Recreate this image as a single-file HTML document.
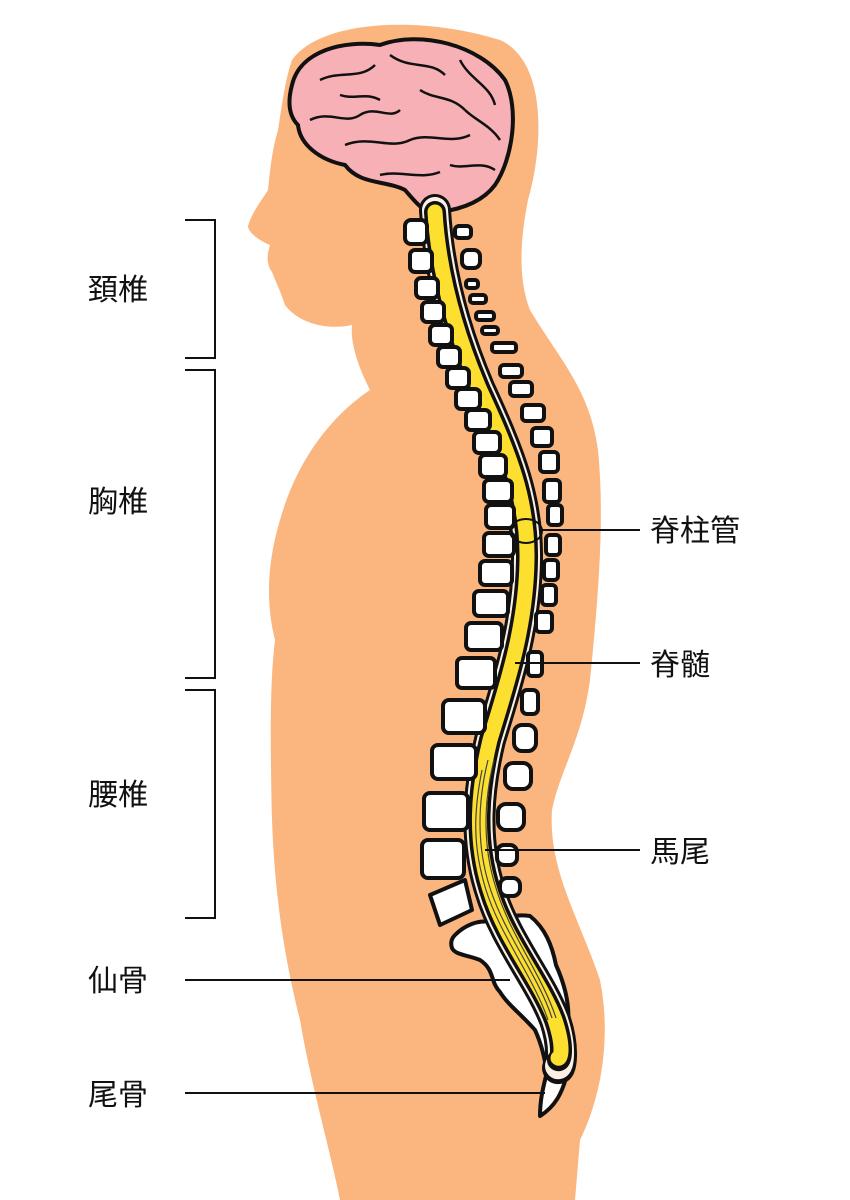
<!DOCTYPE html>
<html><head><meta charset="utf-8"><style>
html,body{margin:0;padding:0;background:#fff}
svg{display:block}
text{font-family:"Liberation Sans","Noto Sans CJK JP",sans-serif;font-size:30px;fill:#111}
</style></head><body>
<svg width="850" height="1200" viewBox="0 0 850 1200" xmlns="http://www.w3.org/2000/svg">
<!-- body -->
<path fill="#fbb67f" d="M292,60 C320,20 420,15 500,40 C545,60 545,140 528,200 C520,240 518,280 530,310 C560,360 590,390 598,450 C605,520 598,600 590,680 C582,740 560,770 552,810 C548,870 580,920 600,980 C612,1040 600,1100 580,1140 L575,1200 L340,1200 C330,1150 310,1080 300,1020 C285,960 275,900 272,820 C270,740 270,680 275,640 C265,600 268,560 280,520 C300,450 340,410 370,390 C360,370 350,345 352,325 C330,330 300,325 285,305 C280,290 275,280 272,272 C265,262 268,252 270,245 C258,240 248,232 248,226 C252,212 262,200 268,190 C270,170 272,150 278,130 C282,105 285,80 292,60 Z"/>
<!-- brain -->
<path fill="#f7b0b6" stroke="#111" stroke-width="4" d="M292,85 C300,50 345,40 380,45 C420,30 480,45 505,80 C520,110 512,160 495,185 C480,205 455,210 440,212 C425,215 418,205 405,190 C385,180 360,185 345,165 C320,160 300,145 298,125 C288,115 288,100 292,85 Z"/>
<g fill="none" stroke="#111" stroke-width="2.5">
<path d="M320,80 C340,70 360,80 375,65"/><path d="M390,55 C410,70 430,60 445,75"/><path d="M460,60 C470,80 490,85 495,105"/>
<path d="M310,120 C330,110 345,125 360,115 C375,105 390,120 400,110"/><path d="M345,145 C370,135 390,150 410,140 C430,132 450,145 470,135"/>
<path d="M420,90 C435,100 450,95 465,110 C475,120 490,125 500,140"/><path d="M380,175 C400,170 420,180 440,172"/><path d="M450,165 C465,170 480,160 495,170"/>
<path d="M340,95 C355,100 365,92 380,100"/>
</g>
<!-- sacrum (behind cord) -->
<path fill="#fff" stroke="#111" stroke-width="4" stroke-linejoin="round" d="M455,935 C465,925 478,920 490,922 C500,918 515,914 530,916 C545,928 552,945 556,965 C565,985 570,1005 568,1025 C574,1045 572,1065 565,1078 L548,1078 C545,1060 542,1045 535,1030 C522,1015 508,1005 500,992 C490,982 495,970 480,960 C468,955 455,955 452,948 C450,942 452,938 455,935 Z"/>
<!-- coccyx -->
<path fill="#fff" stroke="#111" stroke-width="4" stroke-linejoin="round" d="M546,1076 L566,1078 C562,1092 556,1106 540,1116 C540,1100 543,1088 546,1076 Z"/>
<!-- spinal canal -->
<path fill="none" stroke="#111" stroke-width="32" stroke-linecap="round" d="M435,210 C438,260 450,320 480,390 C510,455 528,500 527,560 C526,630 505,690 490,740 C478,790 474,840 490,890 C505,940 540,980 555,1020 C565,1050 560,1070 558,1068"/>
<path fill="none" stroke="#fbf0e6" stroke-width="26" stroke-linecap="round" d="M435,210 C438,260 450,320 480,390 C510,455 528,500 527,560 C526,630 505,690 490,740 C478,790 474,840 490,890 C505,940 540,980 555,1020 C565,1050 560,1068 558,1066"/>
<path fill="none" stroke="#111" stroke-width="22" stroke-linecap="round" d="M435,212 C438,260 450,320 480,390 C510,455 528,500 527,560 C526,630 505,690 490,740 C478,790 474,840 490,890 C505,940 540,980 555,1020 C565,1050 560,1062 558,1060"/>
<path fill="none" stroke="#fde02f" stroke-width="15" stroke-linecap="round" d="M435,212 C438,260 450,320 480,390 C510,455 528,500 527,560 C526,630 505,690 490,740 C478,790 474,840 490,890 C505,940 540,980 555,1020 C565,1050 560,1060 558,1058"/>
<g fill="none" stroke="#444" stroke-width="1.2">
<path d="M488,760 C478,800 476,845 490,888 C505,935 538,975 552,1018"/>
<path d="M494,760 C484,800 482,845 496,888 C510,935 542,975 556,1018"/>
<path d="M482,770 C474,810 472,845 486,890 C500,935 534,978 548,1020"/>
</g>
<!-- vertebral bodies -->
<g fill="#fff" stroke="#111" stroke-width="4" stroke-linejoin="round">
<rect x="405" y="220" width="22" height="24" rx="6"/>
<rect x="410" y="250" width="22" height="22" rx="5"/>
<rect x="416" y="278" width="22" height="20" rx="5"/>
<rect x="422" y="302" width="22" height="20" rx="5"/>
<rect x="430" y="325" width="22" height="20" rx="5"/>
<rect x="438" y="347" width="22" height="20" rx="5"/>
<rect x="447" y="368" width="22" height="20" rx="5"/>
<rect x="456" y="389" width="24" height="20" rx="5"/>
<rect x="466" y="410" width="24" height="20" rx="5"/>
<rect x="474" y="432" width="26" height="21" rx="5"/>
<rect x="480" y="455" width="26" height="22" rx="5"/>
<rect x="484" y="480" width="28" height="22" rx="5"/>
<rect x="486" y="505" width="28" height="23" rx="5"/>
<rect x="484" y="533" width="30" height="23" rx="5"/>
<rect x="480" y="561" width="32" height="24" rx="5"/>
<rect x="474" y="591" width="34" height="25" rx="5"/>
<rect x="466" y="623" width="36" height="27" rx="5"/>
<rect x="457" y="658" width="38" height="30" rx="5"/>
<rect x="443" y="700" width="42" height="33" rx="6"/>
<rect x="432" y="745" width="44" height="34" rx="6"/>
<rect x="424" y="793" width="44" height="37" rx="6"/>
<rect x="422" y="840" width="42" height="38" rx="6"/>
<path d="M430,895 L465,880 L472,910 L440,925 Z"/>
</g>
<!-- processes -->
<g fill="#fff" stroke="#111" stroke-width="4" stroke-linejoin="round">
<rect x="455" y="226" width="16" height="12" rx="4"/>
<rect x="462" y="250" width="18" height="18" rx="6"/>
<rect x="466" y="280" width="12" height="8" rx="3"/>
<rect x="470" y="295" width="16" height="8" rx="3"/>
<rect x="476" y="312" width="18" height="8" rx="3"/>
<rect x="482" y="327" width="16" height="7" rx="3"/>
<rect x="492" y="343" width="24" height="9" rx="3"/>
<rect x="500" y="365" width="22" height="12" rx="4"/>
<rect x="510" y="382" width="22" height="14" rx="4"/>
<rect x="522" y="405" width="22" height="16" rx="4"/>
<rect x="532" y="428" width="20" height="18" rx="4"/>
<rect x="540" y="452" width="18" height="20" rx="4"/>
<rect x="544" y="480" width="16" height="22" rx="4"/>
<rect x="548" y="505" width="14" height="20" rx="4"/>
<rect x="546" y="535" width="14" height="20" rx="4"/>
<rect x="544" y="560" width="14" height="20" rx="4"/>
<rect x="542" y="585" width="14" height="20" rx="4"/>
<rect x="536" y="612" width="16" height="20" rx="4"/>
<rect x="528" y="652" width="14" height="24" rx="4"/>
<rect x="522" y="690" width="16" height="24" rx="5"/>
<rect x="514" y="725" width="22" height="26" rx="8"/>
<rect x="505" y="763" width="26" height="26" rx="8"/>
<rect x="498" y="804" width="26" height="26" rx="8"/>
<rect x="497" y="845" width="20" height="20" rx="7"/>
<rect x="500" y="878" width="20" height="18" rx="7"/>
</g>
<!-- canal circle -->
<ellipse cx="526" cy="531" rx="16" ry="12" fill="none" stroke="#111" stroke-width="2"/>
<!-- brackets & leaders -->
<g fill="none" stroke="#111" stroke-width="2">
<path d="M185,220 H215 V358 H185"/>
<path d="M185,370 H215 V678 H185"/>
<path d="M185,690 H215 V918 H185"/>
<line x1="185" y1="980" x2="510" y2="980"/>
<line x1="185" y1="1093" x2="545" y2="1093"/>
<line x1="540" y1="530" x2="640" y2="530"/>
<line x1="515" y1="663" x2="640" y2="663"/>
<line x1="485" y1="850" x2="640" y2="850"/>
</g>
<text x="88" y="300">頚椎</text>
<text x="88" y="512">胸椎</text>
<text x="88" y="805">腰椎</text>
<text x="88" y="991">仙骨</text>
<text x="88" y="1105">尾骨</text>
<text x="650" y="541">脊柱管</text>
<text x="650" y="675">脊髄</text>
<text x="650" y="862">馬尾</text>
</svg>
</body></html>
